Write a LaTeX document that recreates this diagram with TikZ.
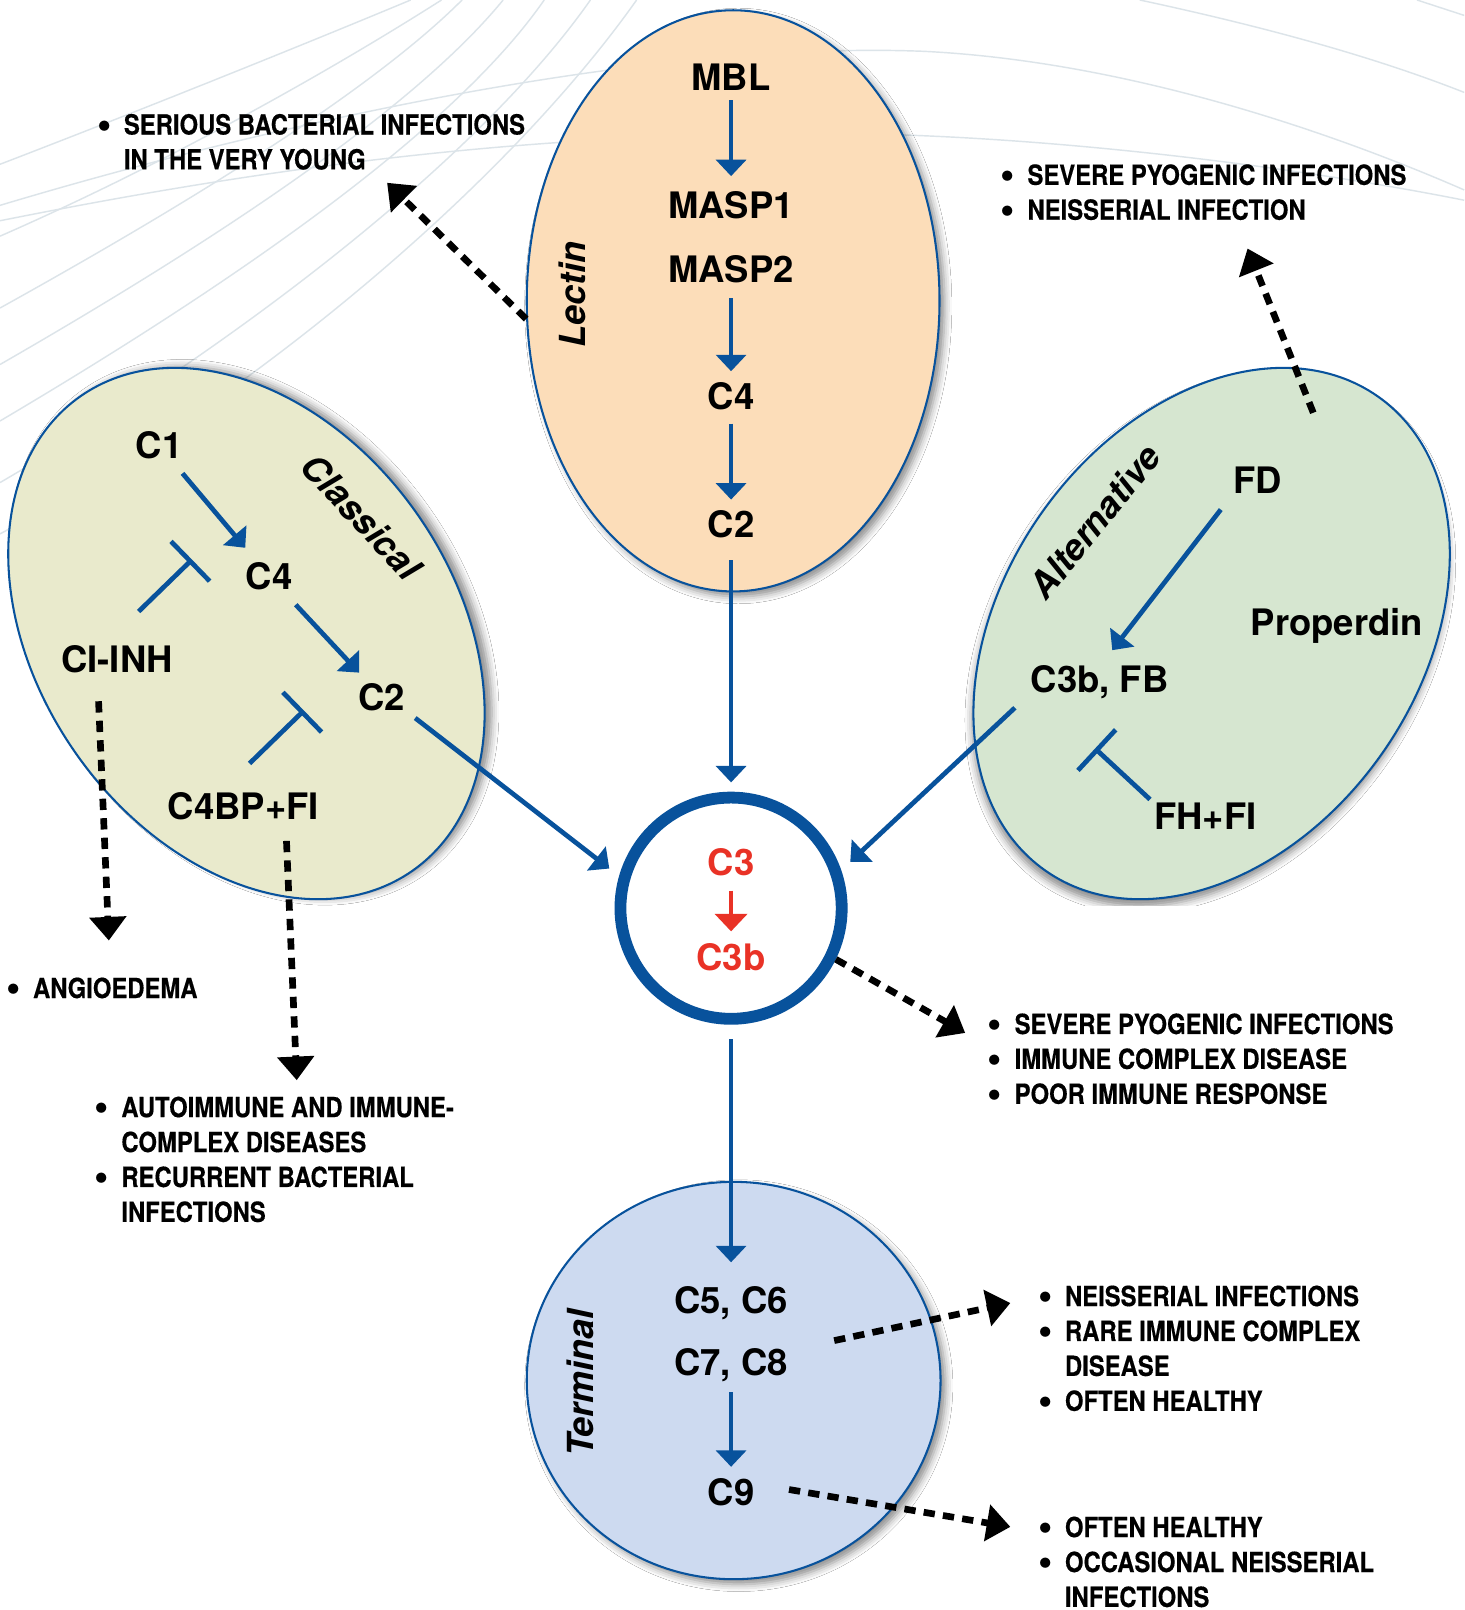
\documentclass[tikz,border=0pt]{standalone}
\usepackage{fontspec}
\setmainfont{TeX Gyre Heros}
\newfontfamily\condfont[FakeStretch=0.86, BoldFeatures={FakeBold=0.4}]{TeX Gyre Heros}
\newfontfamily\plainfont{TeX Gyre Heros}
\usetikzlibrary{arrows.meta,shapes.geometric,shadows.blur,calc}
\definecolor{blueM}{RGB}{8,82,156}
\definecolor{redC}{RGB}{233,50,38}
\definecolor{lectinC}{RGB}{252,221,185}
\definecolor{classC}{RGB}{233,234,204}
\definecolor{altC}{RGB}{214,230,208}
\definecolor{termC}{RGB}{205,218,240}
\definecolor{bgline}{RGB}{220,228,233}
\newcommand{\bul}{\makebox[26pt][l]{\raisebox{-3.5pt}{\fontsize{40}{40}\selectfont\plainfont\bfseries\char"2022}}}
\tikzset{
  ell/.style={ellipse, draw=blueM, line width=2pt, inner sep=0pt},
  shad/.style 2 args={blur shadow={shadow xshift=#1, shadow yshift=#2, shadow blur radius=7pt, shadow opacity=45}},
  lbl/.style={font=\fontsize{35.5}{40}\selectfont\bfseries, inner sep=0pt, text height=25.5pt, text depth=0pt},
  pathlbl/.style={font=\fontsize{35}{40}\selectfont\bfseries\itshape, inner sep=0pt},
  bluearr/.style={draw=blueM, line width=4.6pt, -{Triangle[length=16pt,width=29pt]}},
  redarr/.style={draw=redC, line width=4.6pt, -{Triangle[length=17pt,width=31pt]}},
  inhib/.style={draw=blueM, line width=4.6pt, -{Bar[width=54pt]}},
  dasharr/.style={draw=black, line width=6.5pt, dash pattern=on 11pt off 8pt, -{Triangle[length=23pt,width=35pt]}},
  listtxt/.style={font=\fontsize{27}{34}\condfont\bfseries, inner sep=0pt, anchor=base west},
  bgl/.style={draw=bgline, line width=1.4pt},
}
\begin{document}
\begin{tikzpicture}[x=1pt,y=-1pt]
\useasboundingbox (0,0) rectangle (1426,1568);
\fill[white] (0,0) rectangle (1426,1568);

% faint background curves
\draw[bgl] (0,160) .. controls (130,110) and (280,50) .. (400,0);
\draw[bgl] (0,230) .. controls (160,160) and (320,70) .. (430,0);
\draw[bgl] (0,300) .. controls (180,200) and (360,90) .. (450,0);
\draw[bgl] (0,355) .. controls (200,240) and (400,110) .. (490,0);
\draw[bgl] (0,410) .. controls (220,280) and (440,130) .. (530,0);
\draw[bgl] (0,470) .. controls (240,330) and (470,150) .. (575,0);
\draw[bgl] (0,520) .. controls (260,380) and (500,170) .. (620,0);
\draw[bgl] (0,200) .. controls (300,110) and (650,40) .. (900,50) .. controls (1100,60) and (1300,130) .. (1426,185);
\draw[bgl] (0,215) .. controls (250,165) and (500,130) .. (800,130) .. controls (1000,130) and (1250,160) .. (1426,195);
\draw[bgl] (1110,0) .. controls (1250,30) and (1350,60) .. (1426,90);
\draw[bgl] (1380,0) -- (1426,15);

% pathway shapes
\node[ell, shad={5pt}{-5pt}, fill=lectinC, minimum width=402pt, minimum height=566pt] (lectin) at (714,293) {};
\node[ell, shad={6.96pt}{1.23pt}, fill=classC, minimum width=564pt, minimum height=406pt, rotate=-55] (classical) at (240,617) {};
\node[ell, shad={-1.23pt}{-6.97pt}, fill=altC, minimum width=564pt, minimum height=406pt, rotate=55] (altern) at (1180,617) {};
\node[ell, shad={5pt}{-5pt}, fill=termC, minimum width=403pt, minimum height=387pt] (terminal) at (714.5,1344.5) {};
\node[circle, draw=blueM, line width=11.5pt, fill=white, minimum size=215.5pt, inner sep=0pt] (C3ring) at (712,884.5) {};

% pathway labels
\node[pathlbl, rotate=90] (lectinlbl) at (557,287) {Lectin};
\node[pathlbl, rotate=-47] (classlbl) at (352,503) {Classical};
\node[pathlbl, rotate=51] (altlbl) at (1066,508) {Alternative};
\node[pathlbl, rotate=90] (termlbl) at (565,1347) {Terminal};

% lectin
\node[lbl] (MBL) at (712,75) {MBL};
\node[lbl] (MASP1) at (712,200) {MASP1};
\node[lbl] (MASP2) at (712,262) {MASP2};
\node[lbl] (lC4) at (712,386) {C4};
\node[lbl] (lC2) at (712,511) {C2};

% classical
\node[lbl] (cC1) at (155,434) {C1};
\node[lbl] (cC4) at (262,561) {C4};
\node[lbl] (CIINH) at (114,642) {CI-INH};
\node[lbl] (cC2) at (372,679) {C2};
\node[lbl] (C4BP) at (237,785) {C4BP+FI};

% alternative
\node[lbl] (FD) at (1225,467.5) {FD};
\node[lbl] (Prop) at (1302,606.5) {Properdin};
\node[lbl] (C3bFB) at (1071,662) {C3b, FB};
\node[lbl] (FHFI) at (1174,795) {FH+FI};

% C3
\node[lbl, text=redC] (C3t) at (712,840) {C3};
\node[lbl, text=redC] (C3b) at (712,932) {C3b};

% terminal
\node[lbl] (C5C6) at (712,1266) {C5, C6};
\node[lbl] (C7C8) at (712,1327) {C7, C8};
\node[lbl] (C9) at (712,1453) {C9};

% blue arrows
\draw[bluearr, shorten <=9.5pt, shorten >=15.5pt] (MBL) -- (MASP1);
\draw[bluearr, shorten <=15.5pt, shorten >=11.5pt] (MASP2) -- (lC4);
\draw[bluearr, shorten <=13.5pt, shorten >=11.5pt] (lC4) -- (lC2);
\draw[bluearr, shorten <=21.5pt, shorten >=9pt] (lC2) -- (C3ring.north);
\draw[bluearr, shorten <=14pt, shorten >=23.7pt] (C3ring.south) -- (C5C6);
\draw[bluearr, shorten <=16pt, shorten >=11.5pt] (C7C8) -- (C9);
\draw[bluearr, shorten <=18.4pt, shorten >=19pt] (cC1) -- (cC4);
\draw[bluearr, shorten <=20.5pt, shorten >=15pt] (cC4) -- (cC2);
\draw[bluearr, shorten <=12pt, shorten >=12pt] (cC2.south east) -- (C3ring.164);
\draw[bluearr, shorten <=20pt, shorten >=20pt] (FD.south west) -- (C3bFB.north);
\draw[bluearr, shorten <=21pt, shorten >=12pt] (C3bFB.south west) -- (C3ring.19);
\draw[redarr, shorten <=14.5pt, shorten >=12pt] (C3t) -- (C3b);

% inhibitions
\draw[inhib] ($(CIINH.north)+(21,-33.5)$) -- ($(cC4)+(-75,-16)$);
\draw[inhib] ($(C4BP.north)+(6,-28.5)$) -- ($(cC2)+(-76,13)$);
\draw[inhib] ($(FHFI.north)+(-54,-3.5)$) -- ($(C3bFB.south)+(-4.5,54)$);

% dashed arrow targets
\coordinate (tipA) at (377,178);
\coordinate (tipB) at (1215,242);
\coordinate (tipC) at (106,916);
\coordinate (tipD) at (289,1052);
\coordinate (tipE) at (940,1006);
\coordinate (tipF) at (984,1269);
\coordinate (tipG) at (984,1487);

\draw[dasharr] (lectin.185) -- (tipA);
\draw[dasharr] ($(altern)+(99,-215)$) -- (tipB);
\draw[dasharr] ($(CIINH.south)+(-18,28)$) -- (tipC);
\draw[dasharr] ($(C4BP.south)+(42,21)$) -- (tipD);
\draw[dasharr] (C3ring.-26) -- (tipE);
\draw[dasharr, shorten <=46pt] (C7C8) -- (tipF);
\draw[dasharr, shorten <=34pt] ($(C9.east)+(0,-8)$) -- (tipG);

% text blocks
\node[listtxt] (txtA) at (94.5,131) {\begin{tabular}[t]{@{}l@{}l@{}}\bul & SERIOUS BACTERIAL INFECTIONS\\ & IN THE VERY YOUNG\end{tabular}};
\node[listtxt] (txtB) at (974.5,180) {\begin{tabular}[t]{@{}l@{}l@{}}\bul & SEVERE PYOGENIC INFECTIONS\\ \bul & NEISSERIAL INFECTION\end{tabular}};
\node[listtxt] (txtC) at (6,972) {\begin{tabular}[t]{@{}l@{}l@{}}\bul & ANGIOEDEMA\end{tabular}};
\node[listtxt] (txtD) at (92,1088) {\begin{tabular}[t]{@{}l@{}l@{}}\bul & AUTOIMMUNE AND IMMUNE-\\ & COMPLEX DISEASES\\ \bul & RECURRENT BACTERIAL\\ & INFECTIONS\end{tabular}};
\node[listtxt] (txtE) at (962,1007) {\begin{tabular}[t]{@{}l@{}l@{}}\bul & SEVERE PYOGENIC INFECTIONS\\ \bul & IMMUNE COMPLEX DISEASE\\ \bul & POOR IMMUNE RESPONSE\end{tabular}};
\node[listtxt] (txtF) at (1011,1272) {\begin{tabular}[t]{@{}l@{}l@{}}\bul & NEISSERIAL INFECTIONS\\ \bul & RARE IMMUNE COMPLEX\\ & DISEASE\\ \bul & OFTEN HEALTHY\end{tabular}};
\node[listtxt] (txtG) at (1011,1497) {\begin{tabular}[t]{@{}l@{}l@{}}\bul & OFTEN HEALTHY\\ \bul & OCCASIONAL NEISSERIAL\\ & INFECTIONS\end{tabular}};
\end{tikzpicture}
\end{document}
